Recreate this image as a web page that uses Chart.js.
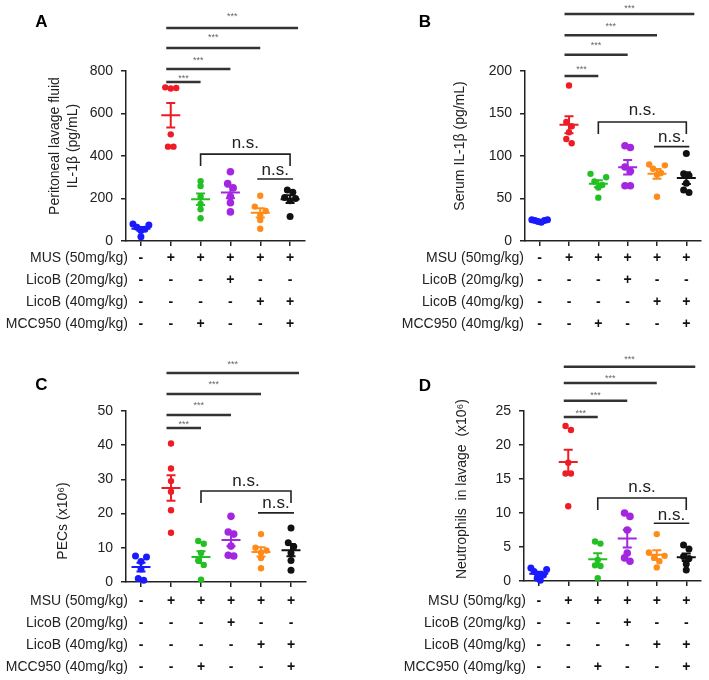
<!DOCTYPE html>
<html>
<head>
<meta charset="utf-8">
<script src="https://cdn.jsdelivr.net/npm/chart.js@4/dist/chart.umd.min.js"></script>
<style>
  body { margin: 0; background: #fff; width: 709px; height: 680px; position: relative; overflow: hidden; }
  canvas { position: absolute; }
</style>
</head>
<body>
<canvas id="cA" width="354" height="340" style="left:0;top:0"></canvas>
<canvas id="cB" width="355" height="340" style="left:354px;top:0"></canvas>
<canvas id="cC" width="354" height="340" style="left:0;top:340px"></canvas>
<canvas id="cD" width="355" height="340" style="left:354px;top:340px"></canvas>
<script>
// groups, left to right
var categories = ['Control', 'MSU', 'MSU+MCC950', 'MSU+LicoB20', 'MSU+LicoB40', 'MSU+LicoB40+MCC950']

// treatment table under each plot
var treatmentLabels = ['MSU (50mg/kg)', 'LicoB (20mg/kg)', 'LicoB (40mg/kg)', 'MCC950 (40mg/kg)']
var msuRow = ['-', '+', '+', '+', '+', '+']
var licoB20Row = ['-', '-', '-', '+', '-', '-']
var licoB40Row = ['-', '-', '-', '-', '+', '+']
var mcc950Row = ['-', '-', '+', '-', '-', '+']

// A: peritoneal lavage fluid IL-1b (pg/mL)
var peritonealIL1b = [
  [80, 75, 65, 55, 50, 20],
  [723, 718, 720, 502, 444, 444],
  [282, 259, 209, 174, 149, 107],
  [326, 270, 250, 209, 180, 137],
  [213, 162, 141, 122, 99, 58],
  [240, 230, 205, 200, 190, 115]
]
var peritonealTicks = [0, 200, 400, 600, 800]

// B: serum IL-1b (pg/mL)
var serumIL1b = [
  [25, 24, 23, 24, 22, 25],
  [183, 140, 135, 128, 120, 115],
  [79, 75, 70, 66, 63, 51],
  [112, 110, 87, 82, 65, 65],
  [90, 89, 85, 80, 78, 52],
  [103, 79, 77, 68, 60, 57]
]
var serumTicks = [0, 50, 100, 150, 200]

// C: PECs (x10^6)
var pecCounts = [
  [7.6, 7.3, 6.0, 3.8, 1.0, 0.5],
  [40.5, 33.2, 29.5, 26.4, 21, 14.4],
  [12, 11.2, 8.5, 6.3, 5, 0.7],
  [19.2, 14.6, 14.0, 10.5, 7.8, 7.6],
  [14, 10, 9.2, 8.6, 7, 4],
  [15.8, 11.5, 10.4, 8.5, 6.3, 3.4]
]
var pecTicks = [0, 10, 20, 30, 40, 50]

// D: neutrophils in lavage (x10^6)
var neutrophilCounts = [
  [1.9, 1.7, 1.4, 0.9, 0.4, 0.1],
  [22.8, 22.2, 17.4, 15.8, 15.8, 11],
  [5.8, 5.5, 3.1, 2.3, 2.2, 0.4],
  [10, 9.5, 7.5, 4.1, 3.4, 2.9],
  [6.9, 4.2, 3.7, 3.4, 2.9, 2.0],
  [5.3, 4.7, 3.6, 3.3, 2.5, 1.6]
]
var neutrophilTicks = [0, 5, 10, 15, 20, 25]

// comparisons
var starPairs = [[1, 2], [1, 3], [1, 4], [1, 5]]
var nsPairs = [[2, 5], [4, 5]]

var groupColors = ['#1a1aff', '#ee1c24', '#22c022', '#a326e0', '#ff8c1a', '#111111']
var dotRadius = [3.5, 3.2, 3.2, 3.8, 3.2, 3.5]
var axisColor = '#222'
var FONT = '"Liberation Sans", Arial, sans-serif'

Chart.defaults.font.family = FONT

// spread points of a group that sit at about the same height (zig-zag, centred)
function swarm(vals, pxPerUnit) {
  var order = vals.map(function (v, k) { return k }).sort(function (a, b) { return vals[b] - vals[a] })
  var out = vals.map(function () { return 0 })
  var cluster = []
  function flush() {
    var n = cluster.length
    if (n > 1) {
      var step = Math.min(5.5, 16 / (n - 1))
      var slots = []
      for (var lo = 0, hi = n - 1; lo <= hi; lo++, hi--) {
        slots.push(lo)
        if (hi !== lo) slots.push(hi)
      }
      cluster.forEach(function (k, j) { out[k] = (slots[j] - (n - 1) / 2) * step / 30 })
    }
    cluster = []
  }
  order.forEach(function (k, j) {
    if (j > 0 && (vals[order[j - 1]] - vals[k]) * pxPerUnit >= 4.5) flush()
    cluster.push(k)
  })
  flush()
  return out
}

function makeDecor(p) {
  return {
    id: 'decor' + p.letter,
    afterDatasetsDraw: function (chart) {
      var ctx = chart.ctx, x = chart.scales.x, y = chart.scales.y
      p.values.forEach(function (vals, i) {
        var n = vals.length
        var m = vals.reduce(function (a, b) { return a + b }, 0) / n
        var sd = Math.sqrt(vals.reduce(function (a, b) { return a + (b - m) * (b - m) }, 0) / (n - 1))
        var sem = sd / Math.sqrt(n)
        var cx = x.getPixelForValue(i)
        var ym = y.getPixelForValue(m), yt = y.getPixelForValue(m + sem), yb = y.getPixelForValue(m - sem)
        ctx.save()
        ctx.strokeStyle = groupColors[i]
        ctx.lineWidth = 2
        ctx.beginPath()
        ctx.moveTo(cx - 9.5, ym); ctx.lineTo(cx + 9.5, ym)
        ctx.moveTo(cx, yt); ctx.lineTo(cx, yb)
        ctx.moveTo(cx - 4.5, yt); ctx.lineTo(cx + 4.5, yt)
        ctx.moveTo(cx - 4.5, yb); ctx.lineTo(cx + 4.5, yb)
        ctx.stroke()
        ctx.restore()
      })
    },
    afterDraw: function (chart) {
      var ctx = chart.ctx, x = chart.scales.x, y = chart.scales.y, area = chart.chartArea
      ctx.save()

      // panel letter
      ctx.fillStyle = '#000'
      ctx.font = 'bold 17px ' + FONT
      ctx.textAlign = 'center'
      ctx.textBaseline = 'middle'
      ctx.fillText(p.letter, p.letterPos[0], p.letterPos[1])

      // y title
      ctx.fillStyle = '#222'
      ctx.font = '14px ' + FONT
      p.title.forEach(function (t, k) {
        ctx.save()
        ctx.translate(p.titleX[k], p.titleY)
        ctx.rotate(-Math.PI / 2)
        ctx.fillText(t, 0, 0)
        ctx.restore()
      })

      // *** bars
      ctx.strokeStyle = '#333'
      starPairs.forEach(function (pair, k) {
        var s = p.stars[k]
        var x1 = x.getPixelForValue(pair[0]) - 4.5
        var x2 = x.getPixelForValue(pair[1]) + (s.ext || 0)
        var ly = y.getPixelForValue(s.line)
        ctx.lineWidth = 2.5
        ctx.beginPath(); ctx.moveTo(x1, ly); ctx.lineTo(x2, ly); ctx.stroke()
        ctx.fillStyle = '#666'
        ctx.font = '9px ' + FONT
        ctx.fillText('***', (x1 + x2) / 2, y.getPixelForValue(s.text) + 2)
      })

      // n.s. bracket and line
      ctx.strokeStyle = '#222'
      ctx.fillStyle = '#222'
      ctx.lineWidth = 1.6
      ctx.font = '17px ' + FONT
      var b = p.ns[0], bx1 = x.getPixelForValue(nsPairs[0][0]), bx2 = x.getPixelForValue(nsPairs[0][1])
      var by = y.getPixelForValue(b.line)
      ctx.beginPath()
      ctx.moveTo(bx1, by + 12); ctx.lineTo(bx1, by); ctx.lineTo(bx2, by); ctx.lineTo(bx2, by + 12)
      ctx.stroke()
      ctx.fillText('n.s.', (bx1 + bx2) / 2, y.getPixelForValue(b.text))
      var c = p.ns[1], cx1 = x.getPixelForValue(nsPairs[1][0]) - 3, cx2 = x.getPixelForValue(nsPairs[1][1]) + 3
      var cy = y.getPixelForValue(c.line)
      ctx.beginPath(); ctx.moveTo(cx1, cy); ctx.lineTo(cx2, cy); ctx.stroke()
      ctx.fillText('n.s.', (cx1 + cx2) / 2, y.getPixelForValue(c.text))

      // treatment table
      var rows = [msuRow, licoB20Row, licoB40Row, mcc950Row]
      rows.forEach(function (row, r) {
        var ry = area.bottom + p.rowTop + r * 22
        ctx.fillStyle = '#222'
        ctx.font = '14px ' + FONT
        ctx.textAlign = 'right'
        ctx.fillText(r === 0 ? p.firstRowLabel : treatmentLabels[r], p.labelRight, ry)
        ctx.fillStyle = '#111'
        ctx.font = 'bold 14px ' + FONT
        ctx.textAlign = 'center'
        row.forEach(function (sign, i) { ctx.fillText(sign, x.getPixelForValue(i), ry) })
      })
      ctx.restore()
    }
  }
}

function buildChart(p) {
  var canvas = document.getElementById(p.canvas)
  var H = canvas.height, W = canvas.width
  var plotH = p.area.bottom - p.area.top
  var yMax = p.ticks[p.ticks.length - 1]
  var datasets = p.values.map(function (vals, i) {
    var jit = swarm(vals, plotH / yMax)
    return {
      data: vals.map(function (v, k) { return { x: i + jit[k], y: v } }),
      backgroundColor: groupColors[i],
      borderWidth: 0,
      pointRadius: dotRadius[i],
      clip: false
    }
  })

  new Chart(canvas.getContext('2d'), {
    type: 'scatter',
    data: { datasets: datasets },
    options: {
      responsive: false,
      animation: false,
      events: [],
      layout: {
        padding: { left: 0, top: p.area.top, right: W - p.area.right, bottom: H - p.area.bottom - 6 }
      },
      scales: {
        x: {
          type: 'linear',
          min: -0.5,
          max: 5.5,
          afterBuildTicks: function (s) { s.ticks = categories.map(function (c, i) { return { value: i } }) },
          afterFit: function (s) { s.height = 6 },
          ticks: { display: false },
          grid: { drawOnChartArea: false, tickLength: 5, color: axisColor, lineWidth: 1.5 },
          border: { color: axisColor, width: 1.5 }
        },
        y: {
          min: 0,
          max: yMax,
          afterBuildTicks: function (s) { s.ticks = p.ticks.map(function (v) { return { value: v } }) },
          afterFit: function (s) { s.width = p.area.left },
          ticks: { color: '#222', font: { size: 14 }, padding: 8 },
          grid: { drawOnChartArea: false, tickLength: 5, color: axisColor, lineWidth: 1.5 },
          border: { color: axisColor, width: 1.5 }
        }
      },
      plugins: {
        legend: { display: false },
        tooltip: { enabled: false }
      }
    },
    plugins: [makeDecor(p)]
  })
}

buildChart({
  canvas: 'cA', letter: 'A', letterPos: [41.5, 22.5],
  values: peritonealIL1b, ticks: peritonealTicks,
  area: { left: 126, right: 305, top: 71, bottom: 241 },
  title: ['Peritoneal lavage fluid', 'IL-1\u03b2 (pg/mL)'], titleX: [55, 73], titleY: 146,
  firstRowLabel: 'MUS (50mg/kg)', labelRight: 128, rowTop: 17,
  stars: [{ line: 748, text: 772 }, { line: 809, text: 861 }, { line: 908, text: 965 }, { line: 1002, text: 1068, ext: 8 }],
  ns: [{ line: 409, text: 461 }, { line: 292, text: 334 }]
})

buildChart({
  canvas: 'cB', letter: 'B', letterPos: [71, 22.5],
  values: serumIL1b, ticks: serumTicks,
  area: { left: 171, right: 347, top: 71, bottom: 241 },
  title: ['Serum IL-1\u03b2 (pg/mL)'], titleX: [106], titleY: 146,
  firstRowLabel: treatmentLabels[0], labelRight: 170, rowTop: 17,
  stars: [{ line: 194, text: 204 }, { line: 219, text: 232 }, { line: 242, text: 255 }, { line: 267, text: 276, ext: 8 }],
  ns: [{ line: 140, text: 154 }, { line: 111, text: 122 }]
})

buildChart({
  canvas: 'cC', letter: 'C', letterPos: [41.5, 45],
  values: pecCounts, ticks: pecTicks,
  area: { left: 126, right: 306, top: 71, bottom: 242 },
  title: ['PECs (x10\u2076)'], titleX: [63], titleY: 181,
  firstRowLabel: treatmentLabels[0], labelRight: 128, rowTop: 19.5,
  stars: [{ line: 45, text: 46.5 }, { line: 48.8, text: 52.3 }, { line: 55, text: 58.2 }, { line: 61.1, text: 64.3, ext: 8 }],
  ns: [{ line: 26.6, text: 29.5 }, { line: 20.2, text: 23.1 }]
})

buildChart({
  canvas: 'cD', letter: 'D', letterPos: [71, 46],
  values: neutrophilCounts, ticks: neutrophilTicks,
  area: { left: 170, right: 347, top: 71, bottom: 241 },
  title: ['Neutrophils  in lavage  (x10\u2076)'], titleX: [108], titleY: 149,
  firstRowLabel: treatmentLabels[0], labelRight: 172, rowTop: 20,
  stars: [{ line: 24.1, text: 24.9 }, { line: 26.5, text: 27.6 }, { line: 29.1, text: 30.1 }, { line: 31.5, text: 32.9, ext: 9 }],
  ns: [{ line: 12.2, text: 13.8 }, { line: 8.5, text: 9.7 }]
})
</script>
</body>
</html>
